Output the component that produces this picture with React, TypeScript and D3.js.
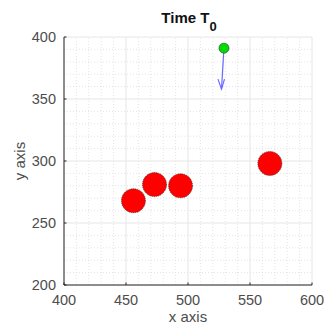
import React from "react";
import * as d3 from "d3";

const redX = [456, 473, 494, 566];
const redY = [268, 281, 280, 298];
const greenX = [529];
const greenY = [391];
const arrowEndX = [527];
const arrowEndY = [358];
const xTicks = [400, 450, 500, 550, 600];
const yTicks = [200, 250, 300, 350, 400];

export default function App() {
  const W = 324, H = 334;
  const x = d3.scaleLinear().domain([400, 600]).range([64, 312]);
  const y = d3.scaleLinear().domain([200, 400]).range([285, 37]);
  const minor = d3.range(400, 601, 10);
  const minorY = d3.range(200, 401, 10);
  const font = "Liberation Sans, Arial, sans-serif";
  const tc = "#4d4d4d";
  const ax0 = x(greenX[0]), ay0 = y(greenY[0]);
  const ax1 = x(arrowEndX[0]), ay1 = y(arrowEndY[0]);
  return (
    <svg width={W} height={H} style={{ position: "absolute", left: 0, top: 0 }}>
      <rect x={0} y={0} width={W} height={H} fill="#fff" />
      {minor.filter((v) => v % 50 !== 0).map((v) => (
        <line key={"mx" + v} x1={x(v)} x2={x(v)} y1={y(200)} y2={y(400)} stroke="#d8d8d8" strokeWidth={0.7} strokeDasharray="1,2" />
      ))}
      {minorY.filter((v) => v % 50 !== 0).map((v) => (
        <line key={"my" + v} y1={y(v)} y2={y(v)} x1={x(400)} x2={x(600)} stroke="#d8d8d8" strokeWidth={0.7} strokeDasharray="1,2" />
      ))}
      {xTicks.map((v) => (
        <line key={"gx" + v} x1={x(v)} x2={x(v)} y1={y(200)} y2={y(400)} stroke="#e6e6e6" strokeWidth={1} />
      ))}
      {yTicks.map((v) => (
        <line key={"gy" + v} y1={y(v)} y2={y(v)} x1={x(400)} x2={x(600)} stroke="#e6e6e6" strokeWidth={1} />
      ))}
      <line x1={x(400)} x2={x(600)} y1={y(200)} y2={y(200)} stroke="#262626" strokeWidth={1} />
      <line x1={x(400)} x2={x(400)} y1={y(200)} y2={y(400)} stroke="#262626" strokeWidth={1} />
      {xTicks.map((v) => (
        <line key={"tx" + v} x1={x(v)} x2={x(v)} y1={y(200)} y2={y(200) - 2.5} stroke="#262626" strokeWidth={1} />
      ))}
      {yTicks.map((v) => (
        <line key={"ty" + v} y1={y(v)} y2={y(v)} x1={x(400)} x2={x(400) + 2.5} stroke="#262626" strokeWidth={1} />
      ))}
      {xTicks.map((v) => (
        <text key={"lx" + v} x={x(v)} y={y(200) + 20} textAnchor="middle" fontFamily={font} fontSize={14.5} fill={tc}>{v}</text>
      ))}
      {yTicks.map((v) => (
        <text key={"ly" + v} x={x(400) - 8} y={y(v) + 5} textAnchor="end" fontFamily={font} fontSize={14.5} fill={tc}>{v}</text>
      ))}
      <text x={188} y={322} textAnchor="middle" fontFamily={font} fontSize={15} fill={tc}>x axis</text>
      <text transform={`translate(25,${y(300)}) rotate(-90)`} textAnchor="middle" fontFamily={font} fontSize={15} fill={tc}>y axis</text>
      <text x={189} y={23} textAnchor="middle" fontFamily={font} fontSize={15} fontWeight="bold" fill="#111">
        Time T<tspan fontSize={13} dy={8}>0</tspan>
      </text>
      <line x1={ax0} y1={ay0} x2={ax1} y2={ay1} stroke="#6a6aff" strokeWidth={1.2} />
      <path d={`M${ax1 - 3.5},${ay1 - 10} L${ax1},${ay1} L${ax1 + 3},${ay1 - 10}`} fill="none" stroke="#6a6aff" strokeWidth={1.2} />
      {redX.map((v, i) => (
        <circle key={"r" + i} cx={x(v)} cy={y(redY[i])} r={12} fill="#ff0000" stroke="#333" strokeWidth={0.8} strokeDasharray="1,1" />
      ))}
      <circle cx={ax0} cy={ay0} r={5} fill="#00dd00" stroke="#333" strokeWidth={0.6} />
    </svg>
  );
}
